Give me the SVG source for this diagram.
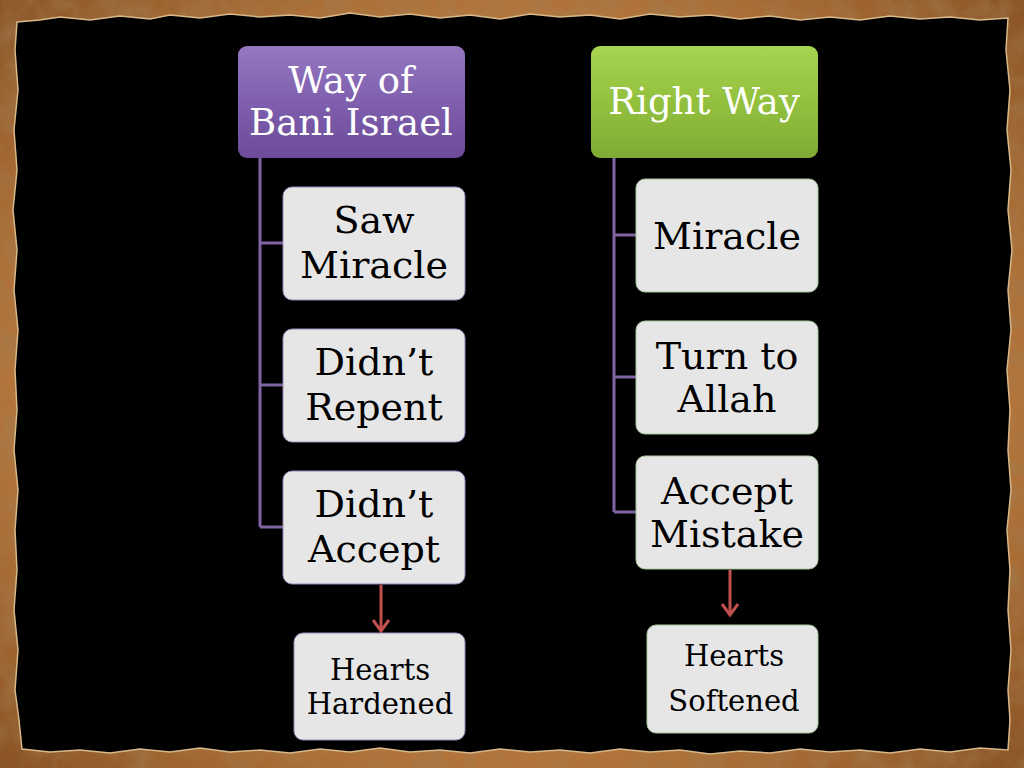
<svg xmlns="http://www.w3.org/2000/svg" width="1024" height="768" viewBox="0 0 1024 768">
<defs>
<radialGradient id="parch" cx="50%" cy="50%" r="70%">
<stop offset="0" stop-color="#c88a4a"/>
<stop offset="0.7" stop-color="#b2743a"/>
<stop offset="1" stop-color="#8a5426"/>
</radialGradient>
<filter id="noise" x="0" y="0" width="100%" height="100%">
<feTurbulence type="fractalNoise" baseFrequency="0.04" numOctaves="4" seed="3"/>
<feColorMatrix type="matrix" values="0 0 0 0 0.35  0 0 0 0 0.2  0 0 0 0 0.08  0 0 0 1.2 -0.45"/>
</filter>
<linearGradient id="purple" x1="0" y1="0" x2="0" y2="1">
<stop offset="0" stop-color="#9478c0"/>
<stop offset="0.5" stop-color="#7f5fae"/>
<stop offset="1" stop-color="#6c4c98"/>
</linearGradient>
<linearGradient id="green" x1="0" y1="0" x2="0" y2="1">
<stop offset="0" stop-color="#a6d350"/>
<stop offset="0.5" stop-color="#93c13e"/>
<stop offset="1" stop-color="#7faa34"/>
</linearGradient>
<marker id="arr" viewBox="0 0 20 20" refX="17" refY="10" markerWidth="20" markerHeight="20" markerUnits="userSpaceOnUse" orient="auto">
<path d="M6,2 L17,10 L6,18" fill="none" stroke="#c0504d" stroke-width="3" stroke-linejoin="miter"/>
</marker>
<style>
.hdr{stroke:none}
.child{fill:#e6e6e7;stroke:#9a86b8;stroke-width:1}
.childg{fill:#e6e6e7;stroke:#a8c49a;stroke-width:1}
.t{font-family:"DejaVu Serif","Liberation Serif",serif;text-anchor:middle}
.tw{fill:#ffffff;font-size:37px}
.tb{fill:#000000;font-size:38px}
.ts{fill:#000000;font-size:29px}
.conn{fill:none;stroke:#8064a2;stroke-width:3}
.red{fill:none;stroke:#c0504d;stroke-width:3}
</style>
</defs>
<g id="background">
<rect x="0" y="0" width="1024" height="768" fill="url(#parch)"/>
<rect x="0" y="0" width="1024" height="768" filter="url(#noise)"/>
<path d="M17,22 L40,20 L60,17 L90,20 L120,16 L150,19 L170,15 L200,18 L230,14 L260,17 L290,15 L320,18 L350,13 L380,17 L410,14 L440,18 L470,15 L500,19 L530,14 L560,17 L590,15 L620,19 L650,14 L680,17 L710,15 L740,19 L770,16 L800,20 L830,17 L860,20 L890,16 L920,19 L950,17 L980,20 L1008,18 L1006,50 L1010,90 L1007,130 L1011,170 L1008,210 L1012,250 L1008,290 L1011,330 L1007,370 L1010,410 L1008,450 L1011,490 L1007,530 L1010,570 L1008,610 L1011,650 L1008,690 L1010,720 L1008,750 L980,748 L950,752 L920,749 L890,753 L860,750 L830,752 L800,749 L770,753 L740,751 L710,754 L680,750 L650,752 L620,749 L590,753 L560,750 L530,752 L500,749 L470,753 L440,750 L410,752 L380,748 L350,752 L320,749 L290,753 L260,750 L230,752 L200,748 L170,752 L140,749 L110,753 L80,750 L50,752 L22,749 L19,720 L15,690 L18,650 L14,610 L17,570 L15,530 L18,490 L14,450 L17,410 L15,370 L18,330 L14,290 L17,250 L13,210 L17,170 L14,130 L18,90 L15,50 Z" fill="#000000" stroke="#d8b88a" stroke-width="1.5"/>
</g>
<g id="connectors">
<path class="conn" d="M260,158 V527 M260,243 H283 M260,385 H283 M260,527 H283"/>
<path class="conn" d="M614,158 V512 M614,235 H636 M614,377 H636 M614,512 H636"/>
<line class="red" x1="381" y1="585" x2="381" y2="631" marker-end="url(#arr)"/>
<line class="red" x1="730" y1="570" x2="730" y2="615" marker-end="url(#arr)"/>
</g>
<g id="node-bani">
<rect class="hdr" x="238" y="46" width="227" height="112" rx="9" fill="url(#purple)"/>
<text class="t tw" x="351" y="93">Way of</text>
<text class="t tw" x="351" y="135">Bani Israel</text>
</g>
<g id="node-saw">
<rect class="child" x="283" y="187" width="182" height="113" rx="9"/>
<text class="t tb" x="374" y="233">Saw</text>
<text class="t tb" x="374" y="278">Miracle</text>
</g>
<g id="node-repent">
<rect class="child" x="283" y="329" width="182" height="113" rx="9"/>
<text class="t tb" x="374" y="375">Didn’t</text>
<text class="t tb" x="374" y="420">Repent</text>
</g>
<g id="node-accept">
<rect class="child" x="283" y="471" width="182" height="113" rx="9"/>
<text class="t tb" x="374" y="517">Didn’t</text>
<text class="t tb" x="374" y="562">Accept</text>
</g>
<g id="node-hardened">
<rect class="child" x="294" y="633" width="171" height="107" rx="9"/>
<text class="t ts" x="380" y="680">Hearts</text>
<text class="t ts" x="380" y="714">Hardened</text>
</g>
<g id="node-right">
<rect class="hdr" x="591" y="46" width="227" height="112" rx="9" fill="url(#green)"/>
<text class="t tw" x="704" y="114">Right Way</text>
</g>
<g id="node-miracle">
<rect class="childg" x="636" y="179" width="182" height="113" rx="9"/>
<text class="t tb" x="727" y="249">Miracle</text>
</g>
<g id="node-turn">
<rect class="childg" x="636" y="321" width="182" height="113" rx="9"/>
<text class="t tb" x="727" y="369">Turn to</text>
<text class="t tb" x="727" y="412">Allah</text>
</g>
<g id="node-mistake">
<rect class="childg" x="636" y="456" width="182" height="113" rx="9"/>
<text class="t tb" x="727" y="504">Accept</text>
<text class="t tb" x="727" y="547">Mistake</text>
</g>
<g id="node-softened">
<rect class="childg" x="647" y="625" width="171" height="108" rx="9"/>
<text class="t ts" x="734" y="666">Hearts</text>
<text class="t ts" x="734" y="711">Softened</text>
</g>
</svg>
